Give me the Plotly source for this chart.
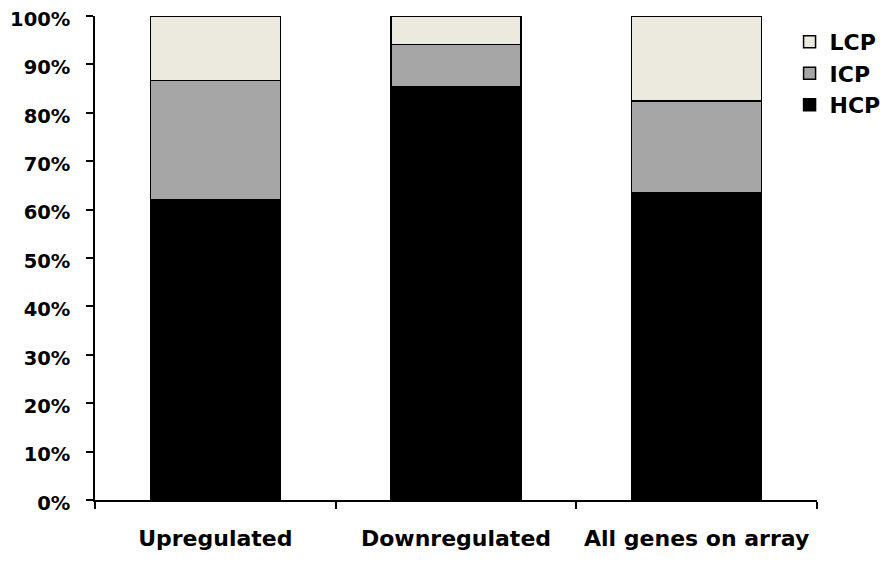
import plotly.graph_objects as go

categories = ["Upregulated", "Downregulated", "All genes on array"]
hcp = [0.621, 0.853, 0.634]
icp = [0.246, 0.088, 0.190]
lcp = [0.133, 0.059, 0.176]
series_names = ["HCP", "ICP", "LCP"]
colors = ["#000000", "#A6A6A6", "#ECEADF"]

font_family = "DejaVu Sans, Liberation Sans, Arial, sans-serif"

fig = go.Figure()
for name, vals, col in zip(series_names, [hcp, icp, lcp], colors):
    fig.add_trace(go.Bar(
        x=categories, y=vals, name=name,
        marker=dict(color=col, line=dict(color="#000000", width=1.5)),
    ))

fig.update_layout(
    width=888, height=563,
    barmode="stack",
    bargap=0.46,
    plot_bgcolor="white", paper_bgcolor="white",
    margin=dict(l=87, r=79, t=8, b=71, pad=0, autoexpand=False),
    font=dict(family=font_family, size=20, color="black", weight="bold"),
    legend=dict(
        x=0.962, xanchor="left", y=0.99, yanchor="top",
        traceorder="reversed",
        font=dict(family=font_family, size=22, color="black", weight="bold"),
        bgcolor="rgba(0,0,0,0)", borderwidth=0,
        itemwidth=30, tracegroupgap=0,
    ),
    showlegend=True,
)
fig.update_yaxes(
    range=[0, 1], tickformat=".0%", dtick=0.1, tick0=0,
    showgrid=False, zeroline=False, automargin=False,
    showline=True, linecolor="black", linewidth=1.5,
    ticks="outside", ticklen=7, tickwidth=1.5, tickcolor="black",
    ticklabelstandoff=12, ticklabelshift=3, ticklabeloverflow="allow",
    tickfont=dict(family=font_family, size=19.5, color="black", weight="bold"),
)
fig.update_xaxes(
    showgrid=False, zeroline=False, automargin=False,
    showline=True, linecolor="black", linewidth=1.5,
    ticks="outside", ticklen=7, tickwidth=1.5, tickcolor="black",
    tickson="boundaries",
    ticklabelstandoff=18, ticklabeloverflow="allow",
    tickfont=dict(family=font_family, size=22, color="black", weight="bold"),
)

fig.write_html("out.html")
